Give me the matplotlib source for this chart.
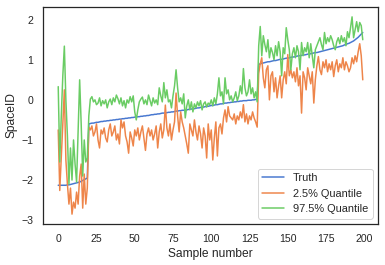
import matplotlib
matplotlib.use("Agg")
import matplotlib.pyplot as plt
import seaborn as sns
import numpy as np

truth = [
    -2.13, -2.13, -2.13, -2.13, -2.13, -2.13, -2.12, -2.12, -2.11, -2.10,
    -2.09, -2.08, -2.07, -2.06, -2.05, -2.03, -2.01, -1.99, -1.97, -1.95,
    -0.60, -0.59, -0.58, -0.58, -0.57, -0.56, -0.56, -0.55, -0.54, -0.54,
    -0.53, -0.53, -0.52, -0.52, -0.51, -0.51, -0.50, -0.50, -0.49, -0.49,
    -0.48, -0.48, -0.47, -0.47, -0.46, -0.46, -0.45, -0.45, -0.44, -0.44,
    -0.43, -0.43, -0.42, -0.42, -0.41, -0.41, -0.40, -0.40, -0.39, -0.39,
    -0.38, -0.37, -0.37, -0.36, -0.36, -0.35, -0.35, -0.34, -0.33, -0.33,
    -0.32, -0.32, -0.31, -0.31, -0.30, -0.30, -0.29, -0.28, -0.28, -0.27,
    -0.27, -0.26, -0.26, -0.25, -0.25, -0.24, -0.23, -0.23, -0.22, -0.22,
    -0.21, -0.20, -0.20, -0.19, -0.18, -0.18, -0.17, -0.16, -0.16, -0.15,
    -0.14, -0.14, -0.13, -0.12, -0.12, -0.11, -0.10, -0.10, -0.09, -0.08,
    -0.08, -0.07, -0.07, -0.06, -0.06, -0.05, -0.05, -0.04, -0.04, -0.03,
    -0.03, -0.02, -0.02, -0.02, -0.01, -0.01, -0.01, 0.00, 0.00, 0.01,
    0.02, 0.88, 0.90, 0.91, 0.92, 0.93, 0.94, 0.95, 0.95, 0.96,
    0.97, 0.98, 0.98, 0.99, 1.00, 1.01, 1.01, 1.02, 1.03, 1.04,
    1.04, 1.05, 1.06, 1.07, 1.07, 1.08, 1.09, 1.10, 1.10, 1.11,
    1.12, 1.12, 1.13, 1.14, 1.15, 1.15, 1.16, 1.17, 1.18, 1.18,
    1.19, 1.20, 1.21, 1.22, 1.23, 1.24, 1.25, 1.26, 1.27, 1.28,
    1.29, 1.30, 1.31, 1.32, 1.33, 1.34, 1.35, 1.37, 1.38, 1.40,
    1.41, 1.43, 1.45, 1.47, 1.50, 1.53, 1.56, 1.60, 1.64, 1.68,
]

q_low = [
    -0.75, -2.26, -1.40, -0.60, 0.25, -1.50, -2.10, -2.60, -2.20, -2.85,
    -2.55, -2.70, -2.30, -2.60, -1.90, -1.60, -2.70, -1.85, -2.60, -2.20,
    -0.68, -0.75, -0.65, -0.90, -0.80, -0.60, -1.00, -1.20, -0.75, -0.85,
    -0.70, -0.95, -1.05, -0.75, -0.60, -0.90, -0.80, -0.65, -1.00, -0.85,
    -1.10, -0.50, -0.70, -0.55, -0.90, -1.05, -1.33, -0.80, -0.95, -1.15,
    -0.75, -0.90, -0.70, -1.00, -0.80, -0.65, -0.95, -1.26, -0.85, -0.70,
    -0.90, -0.75, -1.00, -0.85, -0.65, -1.20, -0.80, -0.60, -0.95, -0.75,
    -0.13, -0.70, -0.90, -0.60, -1.00, -0.75, -0.55, 0.17, -0.40, -0.80,
    -0.30, -0.55, -0.70, -0.90, -1.10, -1.33, -0.60, -0.75, -0.90, -0.50,
    -0.80, -1.00, -0.65, -0.85, -1.20, -0.70, -0.90, -1.45, -0.60, -1.00,
    -0.75, -1.50, -0.95, -0.55, -1.40, -0.70, -0.60, -0.85, -0.45, -0.25,
    -0.55, -0.17, -0.40, -0.45, -0.50, -0.35, -0.60, -0.40, -0.50, -0.30,
    -0.45, -0.12, -0.55, -0.35, -0.60, -0.40, -0.50, -0.30, -0.45, -0.55,
    -0.68, 0.67, 0.90, 1.05, 0.55, 0.30, 0.75, 0.85, 0.00, 0.60,
    0.70, 0.20, 0.55, 0.05, 0.35, 0.60, 0.05, 0.50, 0.70, 0.40,
    1.13, 0.60, 0.75, 0.55, 0.70, 0.45, 0.80, 0.35, 0.60, -0.33,
    0.70, 0.55, 0.25, 0.80, 0.60, 0.40, 0.70, -0.08, 0.50, 0.85,
    1.08, 0.75, 0.63, 0.95, 0.80, 1.00, 0.70, 0.90, 0.75, 0.95,
    0.58, 0.85, 1.00, 0.70, 0.90, 0.80, 1.05, 0.75, 0.95, 0.85,
    0.70, 0.80, 1.05, 0.90, 1.10, 0.95, 1.20, 1.40, 1.10, 0.50,
]

q_high = [
    0.33, -1.55, -0.40, 0.60, 1.34, 0.00, -0.90, -2.10, -1.20, -2.00,
    -1.00, -1.60, -2.05, -0.80, 0.50, -0.60, -1.90, -1.00, -1.55, -1.45,
    -0.40, 0.02, 0.08, -0.05, 0.00, -0.12, -0.08, 0.05, -0.15, -0.02,
    -0.10, 0.00, -0.20, -0.05, 0.02, -0.12, 0.05, -0.05, 0.12, 0.03,
    -0.10, 0.05, -0.15, -0.02, -0.20, 0.00, -0.08, 0.08, -0.05, 0.10,
    -0.30, -0.50, -0.25, -0.05, 0.02, 0.07, -0.10, 0.00, -0.12, 0.12,
    -0.02, -0.15, 0.05, -0.08, 0.00, -0.12, 0.30, 0.10, -0.05, 0.43,
    0.05, 0.25, -0.05, 0.00, -0.20, 0.10, 0.35, 0.75, 0.30, -0.05,
    0.05, -0.10, 0.15, -0.45, -0.15, 0.00, -0.25, -0.05, -0.30, -0.10,
    -0.20, -0.05, -0.15, -0.02, -0.25, -0.10, -0.05, -0.18, -0.08, -0.12,
    0.00, -0.15, 0.05, -0.10, 0.15, 0.55, 0.10, 0.20, -0.10, 0.55,
    0.15, 0.25, 0.00, 0.10, -0.05, 0.05, 0.20, -0.02, 0.10, 0.35,
    0.15, 0.78, 0.30, 0.10, 0.20, 0.50, 0.15, 0.30, 0.05, 0.20,
    -0.05, 1.35, 1.83, 1.10, 1.60, 1.38, 1.20, 1.50, 1.05, 1.30,
    1.18, 1.00, 1.35, 1.10, 1.45, 1.20, 0.60, 1.30, 1.15, 1.80,
    1.50, 1.25, 0.75, 1.15, 1.30, 1.05, 1.35, 1.20, 0.75, 1.43,
    1.10, 1.30, 1.20, 1.43, 1.05, 1.40, 1.10, 0.80, 1.25, 1.35,
    1.45, 1.55, 1.38, 1.25, 1.68, 1.40, 1.55, 1.45, 1.60, 1.50,
    1.35, 1.25, 1.45, 1.55, 1.40, 1.60, 1.45, 1.55, 1.35, 1.70,
    1.55, 1.80, 2.07, 1.55, 1.75, 1.95, 1.70, 1.93, 1.85, 1.50,
]

labels = ["Truth", "2.5% Quantile", "97.5% Quantile"]
x_label = "Sample number"
y_label = "SpaceID"

sns.set_theme(style="white", palette="muted")
plt.rcParams['font.family'] = ['Liberation Sans', 'DejaVu Sans']

fig = plt.figure(figsize=(385 / 72, 265 / 72), dpi=72)
ax = fig.add_axes([43 / 385, 1 - 224 / 265, (378 - 43) / 385, (224 - 7) / 265])
x = np.arange(len(truth))
ax.plot(x, truth, label=labels[0])
ax.plot(x, q_low, label=labels[1])
ax.plot(x, q_high, label=labels[2])
ax.set_xlabel(x_label, fontsize=12)
ax.set_ylabel(y_label, fontsize=12)
ax.set_yticks([-3, -2, -1, 0, 1, 2])
ax.set_xticks([0, 25, 50, 75, 100, 125, 150, 175, 200])
ax.tick_params(labelsize=10.5)
ax.legend(loc="lower right", fontsize=11)
fig.savefig("out.png", dpi=72)
